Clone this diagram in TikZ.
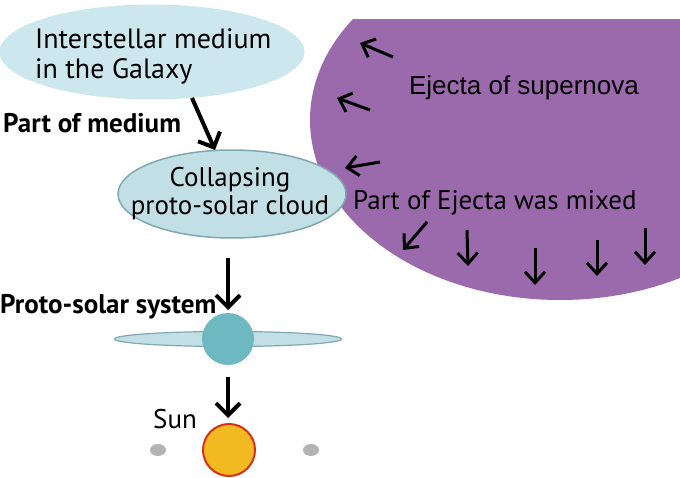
\documentclass[tikz,border=0pt]{standalone}
\usepackage{fontspec}
\setmainfont{PT Sans}
\newfontfamily\arialfont{Liberation Sans}
\usetikzlibrary{arrows.meta,shapes.geometric}
\definecolor{galaxyblue}{HTML}{CDE7EE}
\definecolor{cloudblue}{HTML}{C2DFE6}
\definecolor{cloudedge}{HTML}{7FA8B0}
\definecolor{ejectapurple}{HTML}{9B6AAC}
\definecolor{prototeal}{HTML}{6DB8C1}
\definecolor{sunyellow}{HTML}{F2B920}
\definecolor{sunred}{HTML}{D8311A}
\definecolor{dotgray}{HTML}{B3B3B3}

\begin{document}
\begin{tikzpicture}[x=1pt, y=-1pt,
  txt/.style={font=\fontsize{#1}{#1}\selectfont, inner sep=0pt},
  bold/.style={font=\fontsize{#1}{#1}\selectfont\bfseries, inner sep=0pt},
  blob/.style={ellipse, inner sep=0pt, fill=#1},
  flow/.style={line width=4pt, -{Straight Barb[length=12pt, width=24pt, line width=4pt]}},
  push/.style={line width=3pt, -{Straight Barb[length=11pt, width=20pt, line width=3pt]}}
]
\useasboundingbox (0,0) rectangle (680,478);
\begin{scope}
  \clip (0,20) rectangle (680,478);
  \fill[ejectapurple] (560,120) ellipse [x radius=250, y radius=180];
\end{scope}
\node[blob=galaxyblue, minimum width=305pt, minimum height=95pt] (galaxy) at (152,52) {};
\node[txt=28, align=left, anchor=west] (galaxytext) at (35,56) {Interstellar medium\\[2pt]in the Galaxy};
\node[bold=27, anchor=base west] (mediumtext) at (3,133) {Part of medium};
\node[blob=cloudblue, draw=cloudedge, line width=1.5pt, minimum width=228pt, minimum height=88pt] (cloud) at (232,194) {};
\node[txt=27, align=center] (cloudtext) at (230,194) {Collapsing\\[1pt]proto-solar cloud};
\node[txt=26, font=\fontsize{26}{26}\arialfont, anchor=base] (ejectatext) at (524,95) {Ejecta of supernova};
\node[txt=27, anchor=base west] (mixedtext) at (353,210) {Part of Ejecta was mixed};
\node[blob=cloudblue, draw=cloudedge, line width=1.2pt, minimum width=227pt, minimum height=15pt] (disk) at (228,339) {};
\node[circle, fill=prototeal, minimum size=52pt, inner sep=0pt] (proto) at (228,339) {};
\node[bold=27, anchor=base west] (prototext) at (0,314) {Proto-solar system};
\node[circle, fill=sunyellow, draw=sunred, line width=2pt, minimum size=52pt, inner sep=0pt] (sun) at (229,450) {};
\node[txt=27, anchor=base] (suntext) at (175,428) {Sun};
\node[blob=dotgray, minimum width=16pt, minimum height=12pt] (inner) at (158,450) {};
\node[blob=dotgray, minimum width=16pt, minimum height=12pt] (outer) at (311,450) {};
\coordinate (m1) at (192,98);
\coordinate (m2) at (215,150);
\coordinate (c1) at (228,258);
\coordinate (c2) at (228,310);
\coordinate (p1) at (228,377);
\coordinate (p2) at (228,418);
\draw[flow] (m1) -- (m2);
\draw[flow] (c1) -- (c2);
\draw[flow] (p1) -- (p2);
\foreach \tx/\ty/\hx/\hy in {
  393/57/360/43, 370/110/337/98, 380/162/345/168,
  427/222/403/250, 467/230/468/266, 535/248/535/285,
  597/240/597/276, 645/228/645/265} {
  \draw[push] (\tx,\ty) -- (\hx,\hy);
}
\end{tikzpicture}
\end{document}
